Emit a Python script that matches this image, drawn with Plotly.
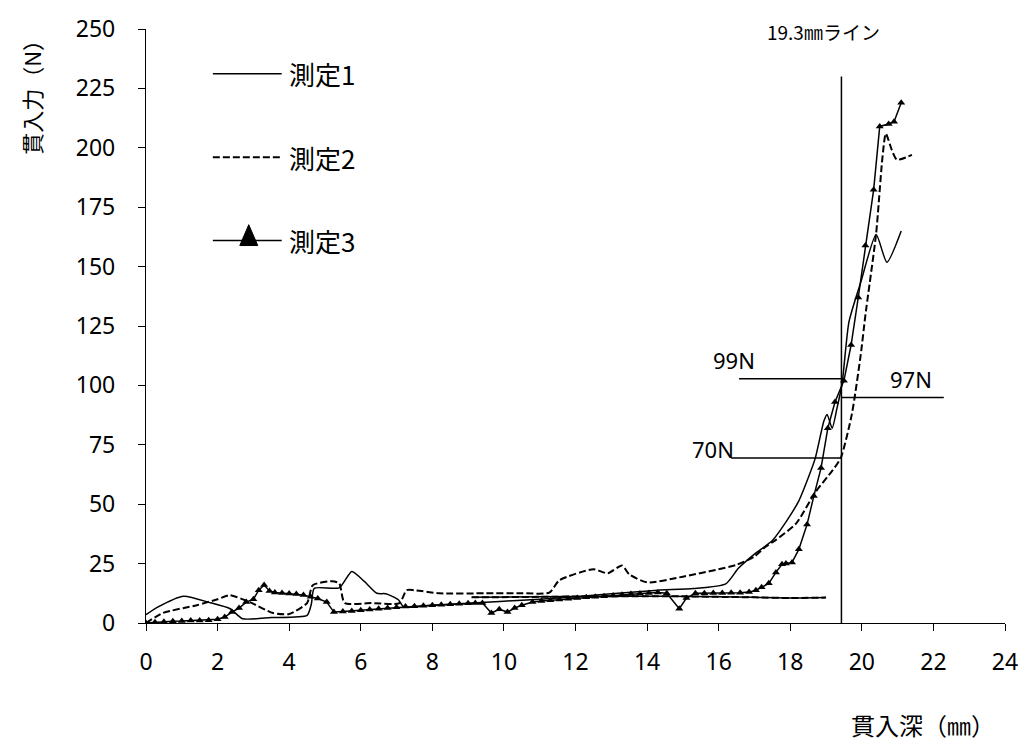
import plotly.graph_objects as go

# ---- data ----
s1_x = [0, 0.3, 1.05, 1.8, 2.35, 2.7, 3.5, 4.5, 4.62, 4.7, 5.4, 5.75, 6.1, 6.45, 6.7, 7.05, 7.2,
        8, 9, 10, 11, 12, 13, 14.3, 15.3, 16.2, 16.55, 17.0, 17.5, 17.9, 18.24, 18.5, 18.7, 18.94,
        19.03, 19.17, 19.3, 19.45, 19.64, 19.97, 20.4, 20.7, 21.1]
s1_y = [3.5, 6.5, 11.3, 8.5, 6.0, 1.8, 2.3, 3.2, 8, 14.6, 14.8, 21.7, 17.5, 12.5, 12.3, 9.8, 6.8,
        7.5, 8.3, 9.2, 10, 11, 12.3, 13.8, 14.5, 16.5, 23, 29, 34.7, 43, 51.4, 61, 69.4, 85,
        87.8, 82, 90, 101, 126.7, 143.4, 163.5, 151.8, 165]

s2_x = [0, 0.47, 1.42, 2.0, 2.34, 2.9, 3.55, 4.0, 4.5, 4.66, 5.2, 5.4, 5.55, 6.3, 7.08, 7.28, 7.5,
        8.2, 9.5, 10.5, 11.27, 11.55, 12.5, 12.9, 13.3, 13.5, 14.0, 15.0, 16.5, 17.0, 17.3, 17.6,
        18.16, 18.7, 19.17, 19.41, 19.72, 19.97, 20.1, 20.4, 20.57, 20.67, 20.84, 20.98, 21.4]
s2_y = [0, 4.2, 7.5, 10, 11.7, 8.8, 4.2, 3.8, 8.4, 15.9, 17.6, 16.7, 8.4, 8.4, 8.4, 13.8, 13.8,
        12.5, 12.5, 12.5, 12.8, 18, 22.6, 20.9, 24.2, 20.5, 17.1, 19.5, 24.5, 28, 32, 35,
        41.8, 55, 64, 69.4, 87.8, 113, 129.6, 164, 195, 206, 199, 195, 197]

s3_x = [0.0, 0.25, 0.5, 0.75, 1.0, 1.25, 1.5, 1.75, 2.0, 2.2, 2.4, 2.6, 2.8, 3.0, 3.15, 3.3, 3.45,
        3.6, 3.8, 4.0, 4.2, 4.4, 4.6, 4.8, 5.05, 5.25, 5.5, 5.75, 6.0, 6.25, 6.5, 6.75, 7.0, 7.25,
        7.5, 7.75, 8.0, 8.25, 8.5, 8.75, 9.0, 9.2, 9.4, 9.65, 9.87, 10.1, 10.3, 10.5, 10.8, 11.05,
        11.3, 11.55, 11.8, 12.05, 12.3, 12.55, 12.8, 13.05, 13.3, 13.55, 13.8, 14.05, 14.3, 14.55,
        14.9, 15.1, 15.35, 15.6, 15.85, 16.1, 16.35, 16.6, 16.85, 17.04, 17.2, 17.4, 17.6, 17.77,
        17.88, 18.05, 18.24, 18.47, 18.66, 18.86, 19.05, 19.25, 19.5, 19.7, 19.9, 20.1, 20.33,
        20.5, 20.75, 20.9, 21.1]
s3_y = [0.0, 0.3, 0.5, 0.7, 0.8, 1.0, 1.1, 1.2, 1.6, 2.5, 4.6, 6.3, 8.8, 10.0, 13.8, 16.0, 13.5,
        12.8, 12.6, 12.4, 12.2, 11.8, 11.0, 10.3, 8.8, 4.6, 4.8, 5.1, 5.4, 5.7, 6.0, 6.3, 6.6, 6.9,
        7.1, 7.3, 7.5, 7.7, 7.9, 8.1, 8.3, 8.4, 8.4, 4.2, 5.8, 4.6, 6.3, 7.5, 8.8, 9.3,
        9.6, 9.9, 10.2, 10.5, 10.8, 11.0, 11.3, 11.6, 11.9, 12.2, 12.4, 12.6, 12.8, 12.5,
        6.0, 10.5, 12.5, 12.5, 12.6, 12.6, 12.7, 12.7, 13.0, 13.8, 15.0, 16.7, 21.3, 24.7,
        25.0, 25.5, 31.0, 41.5, 53.5, 65.2, 82.0, 93.0, 102.0, 117.0, 137.0, 158.9, 182.3,
        209.0, 210.0, 211.0, 219.0]

tail_x = [9.1, 11.0, 12.5, 14.5, 16.0, 17.0, 18.0, 19.0]
tail_y = [10.8, 11.0, 11.2, 11.3, 11.0, 10.8, 10.5, 10.7]

x_ticks = list(range(0, 25, 2))
y_ticks = list(range(0, 251, 25))

line_pos = 19.43          # 19.3mm line
ref_lines = [  # (label, x0, x1, y, label_x, label_y)
    ("99N", 16.57, line_pos, 102.8, 16.43, 110.8),
    ("97N", line_pos, 22.29, 94.9, 21.37, 102.8),
    ("70N", 16.35, line_pos, 69.4, 15.84, 73.2),
]

legend_names = ["測定1", "測定2", "測定3"]

FONT = "Noto Sans, Noto Sans CJK JP, sans-serif"
JFONT = "Noto Sans CJK JP, Noto Sans, sans-serif"

fig = go.Figure()
fig.add_trace(go.Scatter(x=tail_x, y=tail_y, mode="lines", showlegend=False,
                         line=dict(color="black", width=1.5, shape="spline", smoothing=0.6)))
fig.add_trace(go.Scatter(x=tail_x, y=tail_y, mode="lines", showlegend=False,
                         line=dict(color="black", width=2, dash="7px,3px", shape="spline", smoothing=0.6)))
fig.add_trace(go.Scatter(x=s1_x, y=s1_y, mode="lines", name=legend_names[0], showlegend=False,
                         line=dict(color="black", width=1.5, shape="spline", smoothing=0.6)))
fig.add_trace(go.Scatter(x=s2_x, y=s2_y, mode="lines", name=legend_names[1], showlegend=False,
                         line=dict(color="black", width=2, dash="7px,3px", shape="spline", smoothing=0.6)))
fig.add_trace(go.Scatter(x=s3_x, y=s3_y, mode="lines+markers", name=legend_names[2], showlegend=False,
                         line=dict(color="black", width=1.5),
                         marker=dict(symbol="triangle-up", size=7, color="black")))

shapes = []
annotations = []
# vertical 19.3mm line
shapes.append(dict(type="line", xref="x", yref="y", x0=line_pos, x1=line_pos, y0=0, y1=230,
                   line=dict(color="black", width=1.5)))
annotations.append(dict(x=18.94, y=249, xref="x", yref="y", text="19.3㎜ライン",
                        xanchor="center", yanchor="middle",
                        showarrow=False, font=dict(family=JFONT, size=19, color="black")))
for lab, x0, x1, yv, lx, ly in ref_lines:
    shapes.append(dict(type="line", xref="x", yref="y", x0=x0, x1=x1, y0=yv, y1=yv,
                       line=dict(color="black", width=1.5)))
    annotations.append(dict(x=lx, y=ly, xref="x", yref="y", text=lab, showarrow=False,
                            xanchor="center", yanchor="middle",
                            font=dict(family=FONT, size=22, color="black")))

# manual legend (paper coords)
def px(xp):
    return (xp - 146) / 861.0
def py(yp):
    return (623 - yp) / 598.0

rows = [70, 154, 238]
for i, (name, yr) in enumerate(zip(legend_names, rows)):
    ln = dict(color="black", width=1.5)
    if i == 1:
        ln = dict(color="black", width=2, dash="7px,3px")
    shapes.append(dict(type="line", xref="paper", yref="paper", x0=px(213), x1=px(282),
                       y0=py(yr), y1=py(yr), line=ln))
    annotations.append(dict(x=px(287), y=py(yr), xref="paper", yref="paper", text=name,
                            xanchor="left", yanchor="middle", showarrow=False,
                            font=dict(family=JFONT, size=26, color="black")))
shapes.append(dict(type="path", xref="paper", yref="paper",
                   path=f"M {px(240)} {py(243)} L {px(258)} {py(243)} L {px(249)} {py(222)} Z",
                   fillcolor="black", line=dict(color="black", width=1)))

# axis titles
annotations.append(dict(x=px(925), y=py(725), xref="paper", yref="paper", text="貫入深（㎜）",
                        xanchor="center", yanchor="middle",
                        showarrow=False, font=dict(family=JFONT, size=24, color="black")))
annotations.append(dict(x=px(30), y=py(88), xref="paper", yref="paper", text="貫入力（N）",
                        xanchor="center", yanchor="middle",
                        textangle=-90, showarrow=False,
                        font=dict(family=JFONT, size=22, color="black")))

fig.update_layout(
    width=1030, height=749,
    margin=dict(l=146, r=23, t=25, b=126),
    paper_bgcolor="white", plot_bgcolor="white",
    shapes=shapes, annotations=annotations,
    font=dict(family=FONT, size=23, color="black"),
    showlegend=False,
)
fig.update_xaxes(range=[0, 24], tickvals=x_ticks, ticks="outside", ticklen=7, tickwidth=1.3,
                 tickcolor="black", showline=True, linecolor="black", linewidth=1.3,
                 showgrid=False, zeroline=False, ticklabelstandoff=11,
                 tickfont=dict(family=FONT, size=23, color="black"))
fig.update_yaxes(range=[0, 250], tickvals=y_ticks, ticks="outside", ticklen=7, tickwidth=1.3,
                 tickcolor="black", showline=True, linecolor="black", linewidth=1.3,
                 showgrid=False, zeroline=False, ticklabelstandoff=18,
                 tickfont=dict(family=FONT, size=23, color="black"))

fig.write_html("out.html")
